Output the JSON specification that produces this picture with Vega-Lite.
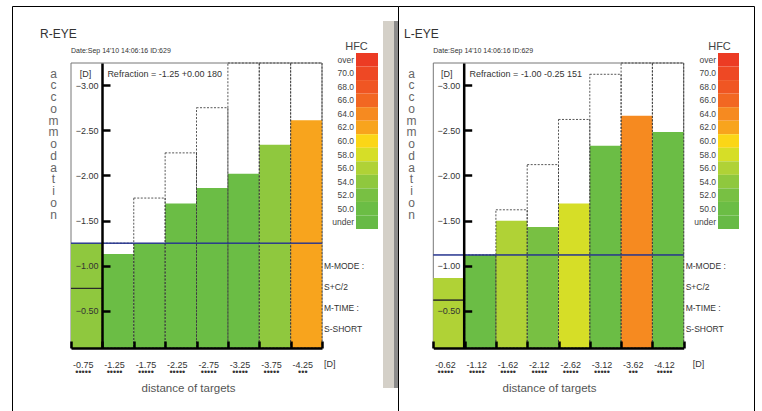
{
  "$schema": "https://vega.github.io/schema/vega-lite/v6.json",
  "autosize": {"type": "pad"},
  "padding": {"left": 11, "top": 5, "right": 0, "bottom": 0},
  "background": "white",
  "spacing": 0,
  "bounds": "flush",
  "hconcat": [
    {
      "width": 386,
      "height": 407,
      "title": {"text": "R-EYE", "anchor": "start", "frame": "group", "dx": 28, "offset": -47, "fontSize": 12, "color": "#333", "fontWeight": "normal", "baseline": "bottom"},
      "resolve": {"scale": {"x": "independent", "y": "independent"}, "axis": {"x": "independent", "y": "independent"}},
      "data": {"values": [
        {"target": "-0.75", "resp": -1.25, "demand": null, "line": -0.75, "hfc": "54.0"},
        {"target": "-1.25", "resp": -1.13, "demand": -1.25, "line": null, "hfc": "50.0"},
        {"target": "-1.75", "resp": -1.25, "demand": -1.75, "line": null, "hfc": "50.0"},
        {"target": "-2.25", "resp": -1.69, "demand": -2.25, "line": null, "hfc": "50.0"},
        {"target": "-2.75", "resp": -1.86, "demand": -2.75, "line": null, "hfc": "50.0"},
        {"target": "-3.25", "resp": -2.02, "demand": -3.25, "line": null, "hfc": "50.0"},
        {"target": "-3.75", "resp": -2.34, "demand": -3.75, "line": null, "hfc": "54.0"},
        {"target": "-4.25", "resp": -2.61, "demand": -4.25, "line": null, "hfc": "62.0"}
      ]},
      "layer": [
        {
          "data": {"values": [{}]},
          "mark": {"type": "rect", "fill": "#d4d0c8"},
          "encoding": {
            "x": {"datum": 0, "type": "quantitative", "scale": {"domain": [0, 1], "range": [371, 382], "nice": false, "zero": false}, "axis": null},
            "x2": {"datum": 1},
            "y": {"datum": 0, "type": "quantitative", "scale": {"domain": [0, 1], "range": [15, 382], "nice": false, "zero": false}, "axis": null},
            "y2": {"datum": 1}
          }
        },
        {
          "data": {"values": [{}]},
          "mark": {"type": "rect", "fill": "#8c8c8c"},
          "encoding": {
            "x": {"datum": 0, "type": "quantitative", "scale": {"domain": [0, 1], "range": [382, 386], "nice": false, "zero": false}, "axis": null},
            "x2": {"datum": 1},
            "y": {"datum": 0, "type": "quantitative", "scale": {"domain": [0, 1], "range": [15, 382], "nice": false, "zero": false}, "axis": null},
            "y2": {"datum": 1}
          }
        },
        {
          "data": {"values": [{}]},
          "mark": {"type": "rect", "fillOpacity": 0, "stroke": "#777", "strokeWidth": 1},
          "encoding": {
            "x": {"datum": "-0.75", "type": "nominal", "bandPosition": 0, "scale": {"type": "band", "domain": ["-0.75","-1.25","-1.75","-2.25","-2.75","-3.25","-3.75","-4.25"], "range": [59, 310], "paddingInner": 0, "paddingOuter": 0}, "axis": null},
            "x2": {"datum": "-4.25", "bandPosition": 1},
            "y": {"datum": -3.245, "type": "quantitative", "scale": {"type": "linear", "domain": [-3.245, -0.09], "range": [57, 342], "clamp": true, "nice": false, "zero": false}, "axis": null},
            "y2": {"datum": -0.09}
          }
        },
        {
          "mark": {"type": "bar"},
          "encoding": {
            "x": {"field": "target", "type": "nominal", "sort": null, "scale": {"type": "band", "domain": ["-0.75","-1.25","-1.75","-2.25","-2.75","-3.25","-3.75","-4.25"], "range": [59, 310], "paddingInner": 0, "paddingOuter": 0}, "axis": null},
            "y": {"field": "resp", "type": "quantitative", "scale": {"type": "linear", "domain": [-3.245, -0.09], "range": [57, 342], "clamp": true, "nice": false, "zero": false}, "axis": null},
            "y2": {"datum": -0.09},
            "fill": {"field": "hfc", "type": "nominal", "legend": null,
              "scale": {"domain": ["over","70.0","68.0","66.0","64.0","62.0","60.0","58.0","56.0","54.0","52.0","50.0","under"],
                "range": ["#ec3b24","#ee4824","#f05623","#f26722","#f68a20","#f8a41d","#fbd617","#d6de27","#b0d236","#8fc83e","#78c043","#6bbd45","#67ba46"]}}
          }
        },
        {
          "mark": {"type": "bar", "fillOpacity": 0, "stroke": "#2a2a2a", "strokeWidth": 1},
          "encoding": {
            "x": {"field": "target", "type": "nominal", "sort": null, "scale": {"type": "band", "domain": ["-0.75","-1.25","-1.75","-2.25","-2.75","-3.25","-3.75","-4.25"], "range": [59, 310], "paddingInner": 0, "paddingOuter": 0}, "axis": null},
            "y": {"field": "line", "type": "quantitative", "scale": {"type": "linear", "domain": [-3.245, -0.09], "range": [57, 342], "clamp": true, "nice": false, "zero": false}, "axis": null},
            "y2": {"field": "line"}
          }
        },
        {
          "mark": {"type": "bar", "fillOpacity": 0, "stroke": "#3a3a3a", "strokeOpacity": 0.85, "strokeDash": [2, 1.5], "strokeWidth": 1},
          "encoding": {
            "x": {"field": "target", "type": "nominal", "sort": null, "scale": {"type": "band", "domain": ["-0.75","-1.25","-1.75","-2.25","-2.75","-3.25","-3.75","-4.25"], "range": [59, 310], "paddingInner": 0, "paddingOuter": 0}, "axis": null},
            "y": {"field": "demand", "type": "quantitative", "scale": {"type": "linear", "domain": [-3.245, -0.09], "range": [57, 342], "clamp": true, "nice": false, "zero": false}, "axis": null},
            "y2": {"datum": -0.09}
          }
        },
        {
          "mark": {"type": "bar", "fillOpacity": 0, "stroke": "#27358f", "strokeWidth": 1},
          "encoding": {
            "x": {"field": "target", "type": "nominal", "sort": null, "scale": {"type": "band", "domain": ["-0.75","-1.25","-1.75","-2.25","-2.75","-3.25","-3.75","-4.25"], "range": [59, 310], "paddingInner": 0, "paddingOuter": 0},
              "axis": {"orient": "bottom", "offset": -65, "zindex": 2, "title": "distance of targets", "titleX": 176, "titleY": 40, "titleBaseline": "middle", "titleAlign": "center", "titleFontSize": 11.5, "titleColor": "#555", "titleFontWeight": "normal",
                "domainColor": "#000", "domainWidth": 2.5, "tickColor": "#000", "tickWidth": 2.5, "tickSize": -7, "tickBand": "extent",
                "labelAngle": 0, "labelFontSize": 9, "labelColor": "#333", "labelPadding": 19, "labelBaseline": "top", "labelLineHeight": 7, "labelOffset": -4,
                "labelExpr": "datum.label == '' ? '' : [datum.label, datum.label == '-4.25' ? '•••' : '•••••']"}},
            "y": {"datum": -1.25, "type": "quantitative", "scale": {"type": "linear", "domain": [-3.245, -0.09], "range": [57, 342], "clamp": true, "nice": false, "zero": false},
              "axis": {"orient": "left", "offset": -90, "zindex": 2, "values": [-3, -2.5, -2, -1.5, -1, -0.5], "format": ".2f",
                "domainColor": "#000", "domainWidth": 2.5, "tickColor": "#000", "tickWidth": 2.5, "tickSize": -8,
                "labelFontSize": 9, "labelColor": "#333", "labelPadding": 12, "labelAlign": "right", "labelBaseline": "middle",
                "title": "[D]", "titleAngle": 0, "titleX": -17, "titleY": 67, "titleAlign": "center", "titleBaseline": "middle", "titleFontSize": 9, "titleColor": "#333", "titleFontWeight": "normal"}},
            "y2": {"datum": -1.25}
          }
        },
        {
          "data": {"values": [{"t": "Refraction = -1.25 +0.00 180"}]},
          "mark": {"type": "text", "align": "left", "baseline": "middle", "dx": 5, "fontSize": 9, "color": "#333"},
          "encoding": {
            "x": {"datum": "-1.25", "type": "nominal", "bandPosition": 0, "scale": {"type": "band", "domain": ["-0.75","-1.25","-1.75","-2.25","-2.75","-3.25","-3.75","-4.25"], "range": [59, 310], "paddingInner": 0, "paddingOuter": 0}, "axis": null},
            "y": {"datum": -3.12, "type": "quantitative", "scale": {"type": "linear", "domain": [-3.245, -0.09], "range": [57, 342], "clamp": true, "nice": false, "zero": false}, "axis": null},
            "text": {"field": "t"}
          }
        },
        {
          "data": {"values": [{"hfc": "over"},{"hfc": "70.0"},{"hfc": "68.0"},{"hfc": "66.0"},{"hfc": "64.0"},{"hfc": "62.0"},{"hfc": "60.0"},{"hfc": "58.0"},{"hfc": "56.0"},{"hfc": "54.0"},{"hfc": "52.0"},{"hfc": "50.0"},{"hfc": "under"}]},
          "mark": {"type": "rect"},
          "encoding": {
            "x": {"datum": 0, "type": "quantitative", "scale": {"domain": [0, 1], "range": [344, 366], "nice": false, "zero": false},
              "axis": {"orient": "top", "offset": 0, "domain": false, "ticks": false, "labels": false,
                "title": ["a","c","c","o","m","m","o","d","a","t","i","o","n"], "titleAngle": 0, "titleX": 41, "titleY": 67, "titleAlign": "center", "titleBaseline": "middle", "titleLineHeight": 11.75, "titleFontSize": 12, "titleColor": "#666", "titleFontWeight": "normal"}},
            "x2": {"datum": 1},
            "y": {"field": "hfc", "type": "nominal", "sort": null,
              "scale": {"type": "band", "domain": ["over","70.0","68.0","66.0","64.0","62.0","60.0","58.0","56.0","54.0","52.0","50.0","under"], "range": [47, 223], "paddingInner": 0, "paddingOuter": 0},
              "axis": {"orient": "left", "offset": -344, "domain": false, "ticks": false, "labelPadding": 2.5, "labelFontSize": 8.5, "labelColor": "#444", "labelAlign": "right", "labelBaseline": "middle",
                "title": "HFC", "titleAngle": 0, "titleX": 0, "titleY": 40, "titleAlign": "center", "titleBaseline": "middle", "titleFontSize": 11, "titleColor": "#444", "titleFontWeight": "normal"}},
            "fill": {"field": "hfc", "type": "nominal", "legend": null,
              "scale": {"domain": ["over","70.0","68.0","66.0","64.0","62.0","60.0","58.0","56.0","54.0","52.0","50.0","under"],
                "range": ["#ec3b24","#ee4824","#f05623","#f26722","#f68a20","#f8a41d","#fbd617","#d6de27","#b0d236","#8fc83e","#78c043","#6bbd45","#67ba46"]}}
          }
        },
        {
          "data": {"values": [{"t": "Date:Sep 14'10 14:06:16   ID:629"}]},
          "mark": {"type": "text", "align": "left", "baseline": "middle", "fontSize": 7, "color": "#333"},
          "encoding": {
            "x": {"datum": "-0.75", "type": "nominal", "bandPosition": 0, "scale": {"type": "band", "domain": ["-0.75","-1.25","-1.75","-2.25","-2.75","-3.25","-3.75","-4.25"], "range": [59, 310], "paddingInner": 0, "paddingOuter": 0}, "axis": null},
            "y": {"datum": -3.376, "type": "quantitative", "scale": {"type": "linear", "domain": [-3.245, -0.09], "range": [57, 342], "nice": false, "zero": false}, "axis": null},
            "text": {"field": "t"}
          }
        },
        {
          "data": {"values": [{}]},
          "mark": {"type": "text", "align": "left", "baseline": "middle", "dx": 2, "fontSize": 8.5, "lineHeight": 21, "color": "#333"},
          "encoding": {
            "x": {"datum": "-4.25", "type": "nominal", "bandPosition": 1, "scale": {"type": "band", "domain": ["-0.75","-1.25","-1.75","-2.25","-2.75","-3.25","-3.75","-4.25"], "range": [59, 310], "paddingInner": 0, "paddingOuter": 0}, "axis": null},
            "y": {"datum": -1.0, "type": "quantitative", "scale": {"type": "linear", "domain": [-3.245, -0.09], "range": [57, 342], "nice": false, "zero": false}, "axis": null},
            "text": {"value": ["M-MODE :", "S+C/2", "M-TIME :", "S-SHORT"]}
          }
        },
        {
          "data": {"values": [{"t": "[D]"}]},
          "mark": {"type": "text", "align": "left", "baseline": "middle", "dx": 2, "fontSize": 9, "color": "#333"},
          "encoding": {
            "x": {"datum": "-4.25", "type": "nominal", "bandPosition": 1, "scale": {"type": "band", "domain": ["-0.75","-1.25","-1.75","-2.25","-2.75","-3.25","-3.75","-4.25"], "range": [59, 310], "paddingInner": 0, "paddingOuter": 0}, "axis": null},
            "y": {"datum": 0.086, "type": "quantitative", "scale": {"type": "linear", "domain": [-3.245, -0.09], "range": [57, 342], "nice": false, "zero": false}, "axis": null},
            "text": {"field": "t"}
          }
        }
      ]
    },
    {
      "width": 356,
      "height": 407,
      "title": {"text": "L-EYE", "anchor": "start", "frame": "group", "dx": 6, "offset": -47, "fontSize": 12, "color": "#333", "fontWeight": "normal", "baseline": "bottom"},
      "resolve": {"scale": {"x": "independent", "y": "independent"}, "axis": {"x": "independent", "y": "independent"}},
      "data": {"values": [
        {"target": "-0.62", "resp": -0.865, "demand": null, "line": -0.62, "hfc": "56.0"},
        {"target": "-1.12", "resp": -1.12, "demand": -1.12, "line": null, "hfc": "50.0"},
        {"target": "-1.62", "resp": -1.5, "demand": -1.62, "line": null, "hfc": "56.0"},
        {"target": "-2.12", "resp": -1.43, "demand": -2.12, "line": null, "hfc": "52.0"},
        {"target": "-2.62", "resp": -1.69, "demand": -2.62, "line": null, "hfc": "58.0"},
        {"target": "-3.12", "resp": -2.33, "demand": -3.12, "line": null, "hfc": "50.0"},
        {"target": "-3.62", "resp": -2.66, "demand": -3.62, "line": null, "hfc": "64.0"},
        {"target": "-4.12", "resp": -2.48, "demand": -4.12, "line": null, "hfc": "50.0"}
      ]},
      "layer": [
        {
          "data": {"values": [{}]},
          "mark": {"type": "rect", "fillOpacity": 0, "stroke": "#777", "strokeWidth": 1},
          "encoding": {
            "x": {"datum": "-0.62", "type": "nominal", "bandPosition": 0, "scale": {"type": "band", "domain": ["-0.62","-1.12","-1.62","-2.12","-2.62","-3.12","-3.62","-4.12"], "range": [35.3, 285.7], "paddingInner": 0, "paddingOuter": 0}, "axis": null},
            "x2": {"datum": "-4.12", "bandPosition": 1},
            "y": {"datum": -3.245, "type": "quantitative", "scale": {"type": "linear", "domain": [-3.245, -0.09], "range": [57, 342], "clamp": true, "nice": false, "zero": false}, "axis": null},
            "y2": {"datum": -0.09}
          }
        },
        {
          "mark": {"type": "bar"},
          "encoding": {
            "x": {"field": "target", "type": "nominal", "sort": null, "scale": {"type": "band", "domain": ["-0.62","-1.12","-1.62","-2.12","-2.62","-3.12","-3.62","-4.12"], "range": [35.3, 285.7], "paddingInner": 0, "paddingOuter": 0}, "axis": null},
            "y": {"field": "resp", "type": "quantitative", "scale": {"type": "linear", "domain": [-3.245, -0.09], "range": [57, 342], "clamp": true, "nice": false, "zero": false}, "axis": null},
            "y2": {"datum": -0.09},
            "fill": {"field": "hfc", "type": "nominal", "legend": null,
              "scale": {"domain": ["over","70.0","68.0","66.0","64.0","62.0","60.0","58.0","56.0","54.0","52.0","50.0","under"],
                "range": ["#ec3b24","#ee4824","#f05623","#f26722","#f68a20","#f8a41d","#fbd617","#d6de27","#b0d236","#8fc83e","#78c043","#6bbd45","#67ba46"]}}
          }
        },
        {
          "mark": {"type": "bar", "fillOpacity": 0, "stroke": "#2a2a2a", "strokeWidth": 1},
          "encoding": {
            "x": {"field": "target", "type": "nominal", "sort": null, "scale": {"type": "band", "domain": ["-0.62","-1.12","-1.62","-2.12","-2.62","-3.12","-3.62","-4.12"], "range": [35.3, 285.7], "paddingInner": 0, "paddingOuter": 0}, "axis": null},
            "y": {"field": "line", "type": "quantitative", "scale": {"type": "linear", "domain": [-3.245, -0.09], "range": [57, 342], "clamp": true, "nice": false, "zero": false}, "axis": null},
            "y2": {"field": "line"}
          }
        },
        {
          "mark": {"type": "bar", "fillOpacity": 0, "stroke": "#3a3a3a", "strokeOpacity": 0.85, "strokeDash": [2, 1.5], "strokeWidth": 1},
          "encoding": {
            "x": {"field": "target", "type": "nominal", "sort": null, "scale": {"type": "band", "domain": ["-0.62","-1.12","-1.62","-2.12","-2.62","-3.12","-3.62","-4.12"], "range": [35.3, 285.7], "paddingInner": 0, "paddingOuter": 0}, "axis": null},
            "y": {"field": "demand", "type": "quantitative", "scale": {"type": "linear", "domain": [-3.245, -0.09], "range": [57, 342], "clamp": true, "nice": false, "zero": false}, "axis": null},
            "y2": {"datum": -0.09}
          }
        },
        {
          "mark": {"type": "bar", "fillOpacity": 0, "stroke": "#27358f", "strokeWidth": 1},
          "encoding": {
            "x": {"field": "target", "type": "nominal", "sort": null, "scale": {"type": "band", "domain": ["-0.62","-1.12","-1.62","-2.12","-2.62","-3.12","-3.62","-4.12"], "range": [35.3, 285.7], "paddingInner": 0, "paddingOuter": 0},
              "axis": {"orient": "bottom", "offset": -65, "zindex": 2, "title": "distance of targets", "titleX": 151, "titleY": 40, "titleBaseline": "middle", "titleAlign": "center", "titleFontSize": 11.5, "titleColor": "#555", "titleFontWeight": "normal",
                "domainColor": "#000", "domainWidth": 2.5, "tickColor": "#000", "tickWidth": 2.5, "tickSize": -7, "tickBand": "extent",
                "labelAngle": 0, "labelFontSize": 9, "labelColor": "#333", "labelPadding": 19, "labelBaseline": "top", "labelLineHeight": 7, "labelOffset": -4,
                "labelExpr": "datum.label == '' ? '' : [datum.label, datum.label == '-3.62' ? '•••' : '•••••']"}},
            "y": {"datum": -1.12, "type": "quantitative", "scale": {"type": "linear", "domain": [-3.245, -0.09], "range": [57, 342], "clamp": true, "nice": false, "zero": false},
              "axis": {"orient": "left", "offset": -65.7, "zindex": 2, "values": [-3, -2.5, -2, -1.5, -1, -0.5], "format": ".2f",
                "domainColor": "#000", "domainWidth": 2.5, "tickColor": "#000", "tickWidth": 2.5, "tickSize": -8,
                "labelFontSize": 9, "labelColor": "#333", "labelPadding": 12, "labelAlign": "right", "labelBaseline": "middle",
                "title": "[D]", "titleAngle": 0, "titleX": -17.5, "titleY": 67, "titleAlign": "center", "titleBaseline": "middle", "titleFontSize": 9, "titleColor": "#333", "titleFontWeight": "normal"}},
            "y2": {"datum": -1.12}
          }
        },
        {
          "data": {"values": [{"t": "Refraction = -1.00 -0.25 151"}]},
          "mark": {"type": "text", "align": "left", "baseline": "middle", "dx": 5, "fontSize": 9, "color": "#333"},
          "encoding": {
            "x": {"datum": "-1.12", "type": "nominal", "bandPosition": 0, "scale": {"type": "band", "domain": ["-0.62","-1.12","-1.62","-2.12","-2.62","-3.12","-3.62","-4.12"], "range": [35.3, 285.7], "paddingInner": 0, "paddingOuter": 0}, "axis": null},
            "y": {"datum": -3.12, "type": "quantitative", "scale": {"type": "linear", "domain": [-3.245, -0.09], "range": [57, 342], "clamp": true, "nice": false, "zero": false}, "axis": null},
            "text": {"field": "t"}
          }
        },
        {
          "data": {"values": [{"hfc": "over"},{"hfc": "70.0"},{"hfc": "68.0"},{"hfc": "66.0"},{"hfc": "64.0"},{"hfc": "62.0"},{"hfc": "60.0"},{"hfc": "58.0"},{"hfc": "56.0"},{"hfc": "54.0"},{"hfc": "52.0"},{"hfc": "50.0"},{"hfc": "under"}]},
          "mark": {"type": "rect"},
          "encoding": {
            "x": {"datum": 0, "type": "quantitative", "scale": {"domain": [0, 1], "range": [320, 341], "nice": false, "zero": false},
              "axis": {"orient": "top", "offset": 0, "domain": false, "ticks": false, "labels": false,
                "title": ["a","c","c","o","m","m","o","d","a","t","i","o","n"], "titleAngle": 0, "titleX": 13, "titleY": 67, "titleAlign": "center", "titleBaseline": "middle", "titleLineHeight": 11.75, "titleFontSize": 12, "titleColor": "#666", "titleFontWeight": "normal"}},
            "x2": {"datum": 1},
            "y": {"field": "hfc", "type": "nominal", "sort": null,
              "scale": {"type": "band", "domain": ["over","70.0","68.0","66.0","64.0","62.0","60.0","58.0","56.0","54.0","52.0","50.0","under"], "range": [47, 223], "paddingInner": 0, "paddingOuter": 0},
              "axis": {"orient": "left", "offset": -320, "domain": false, "ticks": false, "labelPadding": 2.5, "labelFontSize": 8.5, "labelColor": "#444", "labelAlign": "right", "labelBaseline": "middle",
                "title": "HFC", "titleAngle": 0, "titleX": 1, "titleY": 40, "titleAlign": "center", "titleBaseline": "middle", "titleFontSize": 11, "titleColor": "#444", "titleFontWeight": "normal"}},
            "fill": {"field": "hfc", "type": "nominal", "legend": null,
              "scale": {"domain": ["over","70.0","68.0","66.0","64.0","62.0","60.0","58.0","56.0","54.0","52.0","50.0","under"],
                "range": ["#ec3b24","#ee4824","#f05623","#f26722","#f68a20","#f8a41d","#fbd617","#d6de27","#b0d236","#8fc83e","#78c043","#6bbd45","#67ba46"]}}
          }
        },
        {
          "data": {"values": [{"t": "Date:Sep 14'10 14:06:16   ID:629"}]},
          "mark": {"type": "text", "align": "left", "baseline": "middle", "fontSize": 7, "color": "#333"},
          "encoding": {
            "x": {"datum": "-0.62", "type": "nominal", "bandPosition": 0, "scale": {"type": "band", "domain": ["-0.62","-1.12","-1.62","-2.12","-2.62","-3.12","-3.62","-4.12"], "range": [35.3, 285.7], "paddingInner": 0, "paddingOuter": 0}, "axis": null},
            "y": {"datum": -3.376, "type": "quantitative", "scale": {"type": "linear", "domain": [-3.245, -0.09], "range": [57, 342], "nice": false, "zero": false}, "axis": null},
            "text": {"field": "t"}
          }
        },
        {
          "data": {"values": [{}]},
          "mark": {"type": "text", "align": "left", "baseline": "middle", "dx": 2, "fontSize": 8.5, "lineHeight": 21, "color": "#333"},
          "encoding": {
            "x": {"datum": "-4.12", "type": "nominal", "bandPosition": 1, "scale": {"type": "band", "domain": ["-0.62","-1.12","-1.62","-2.12","-2.62","-3.12","-3.62","-4.12"], "range": [35.3, 285.7], "paddingInner": 0, "paddingOuter": 0}, "axis": null},
            "y": {"datum": -1.0, "type": "quantitative", "scale": {"type": "linear", "domain": [-3.245, -0.09], "range": [57, 342], "nice": false, "zero": false}, "axis": null},
            "text": {"value": ["M-MODE :", "S+C/2", "M-TIME :", "S-SHORT"]}
          }
        },
        {
          "data": {"values": [{"t": "[D]"}]},
          "mark": {"type": "text", "align": "left", "baseline": "middle", "dx": 9, "fontSize": 9, "color": "#333"},
          "encoding": {
            "x": {"datum": "-4.12", "type": "nominal", "bandPosition": 1, "scale": {"type": "band", "domain": ["-0.62","-1.12","-1.62","-2.12","-2.62","-3.12","-3.62","-4.12"], "range": [35.3, 285.7], "paddingInner": 0, "paddingOuter": 0}, "axis": null},
            "y": {"datum": 0.086, "type": "quantitative", "scale": {"type": "linear", "domain": [-3.245, -0.09], "range": [57, 342], "nice": false, "zero": false}, "axis": null},
            "text": {"field": "t"}
          }
        }
      ]
    }
  ],
  "config": {
    "font": "Liberation Sans Narrow, Liberation Sans, Arial, sans-serif",
    "view": {"stroke": "#000", "strokeWidth": 1, "fill": "white"},
    "axis": {"grid": false, "titleFontWeight": "normal"},
    "title": {"fontWeight": "normal"}
  }
}
